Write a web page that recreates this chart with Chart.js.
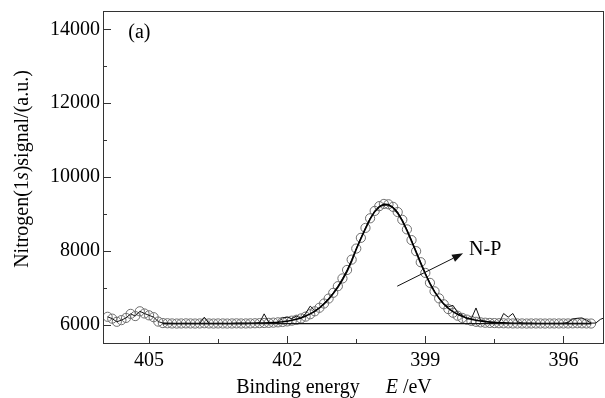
<!DOCTYPE html>
<html>
<head>
<meta charset="utf-8">
<script src="https://cdn.jsdelivr.net/npm/chart.js@4/dist/chart.umd.min.js"></script>
<style>
  html, body { margin: 0; padding: 0; background: #fff; }
  #wrap { width: 605px; height: 398px; }
</style>
</head>
<body>
<div id="wrap"><canvas id="c" width="605" height="398"></canvas></div>
<script>
// ---------------- DATA ----------------
// Binding energies of the measured points (eV)
const energies = [
  405.9, 405.8, 405.7, 405.6, 405.5, 405.4, 405.3, 405.2, 405.1, 405.0,
  404.9, 404.8, 404.7, 404.6, 404.5, 404.4, 404.3, 404.2, 404.1, 404.0,
  403.9, 403.8, 403.7, 403.6, 403.5, 403.4, 403.3, 403.2, 403.1, 403.0,
  402.9, 402.8, 402.7, 402.6, 402.5, 402.4, 402.3, 402.2, 402.1, 402.0,
  401.9, 401.8, 401.7, 401.6, 401.5, 401.4, 401.3, 401.2, 401.1, 401.0,
  400.9, 400.8, 400.7, 400.6, 400.5, 400.4, 400.3, 400.2, 400.1, 400.0,
  399.9, 399.8, 399.7, 399.6, 399.5, 399.4, 399.3, 399.2, 399.1, 399.0,
  398.9, 398.8, 398.7, 398.6, 398.5, 398.4, 398.3, 398.2, 398.1, 398.0,
  397.9, 397.8, 397.7, 397.6, 397.5, 397.4, 397.3, 397.2, 397.1, 397.0,
  396.9, 396.8, 396.7, 396.6, 396.5, 396.4, 396.3, 396.2, 396.1, 396.0,
  395.9, 395.8, 395.7, 395.6, 395.5, 395.4
];
// Measured N 1s signal (open circles)
const measured = [
  6210, 6160, 6075, 6120, 6180, 6290, 6230, 6360, 6300, 6250,
  6200, 6080, 6040, 6035, 6030, 6028, 6030, 6032, 6030, 6028,
  6030, 6035, 6030, 6028, 6030, 6030, 6028, 6030, 6032, 6030,
  6030, 6032, 6035, 6038, 6042, 6046, 6052, 6060, 6070, 6085,
  6105, 6130, 6165, 6215, 6280, 6360, 6455, 6570, 6705, 6860,
  7040, 7250, 7480, 7760, 8060, 8350, 8620, 8880, 9080, 9210,
  9270, 9260, 9190, 9050, 8840, 8580, 8290, 7990, 7690, 7400,
  7130, 6900, 6710, 6550, 6420, 6320, 6240, 6180, 6135, 6100,
  6075, 6060, 6050, 6044, 6040, 6036, 6034, 6032, 6030, 6030,
  6030, 6028, 6030, 6030, 6030, 6028, 6030, 6030, 6030, 6030,
  6030, 6032, 6035, 6033, 6030, 6028
];
// Raw spectrum trace (thin noisy line)
const rawEnergies = energies.concat([395.3, 395.2, 395.1]);
const rawSignal = [
  6210, 6160, 6075, 6120, 6180, 6290, 6230, 6360, 6300, 6250,
  6200, 6080, 6040, 6035, 6030, 6028, 6030, 6032, 6030, 6028,
  6030, 6200, 6030, 6028, 6030, 6030, 6028, 6030, 6032, 6030,
  6030, 6032, 6035, 6050, 6290, 6060, 6052, 6060, 6180, 6200,
  6160, 6230, 6170, 6300, 6500, 6380, 6455, 6570, 6705, 6860,
  7040, 7250, 7480, 7760, 8060, 8350, 8620, 8880, 9080, 9210,
  9270, 9260, 9190, 9050, 8840, 8580, 8290, 7990, 7690, 7400,
  7130, 6900, 6710, 6550, 6480, 6520, 6330, 6260, 6150, 6160,
  6450, 6120, 6090, 6060, 6050, 6040, 6300, 6200, 6300, 6080,
  6035, 6030, 6030, 6030, 6030, 6028, 6030, 6030, 6030, 6035,
  6060, 6150, 6170, 6180, 6120, 6040, 6040, 6140, 6190
];
// Fitted N-P envelope (smooth line); null = not drawn
const fitted = [
  null, null, null, null, null, null, null, null, null, null,
  null, null, 6030, 6030, 6030, 6030, 6030, 6030, 6030, 6030,
  6030, 6030, 6030, 6030, 6030, 6030, 6030, 6030, 6031, 6032,
  6033, 6035, 6037, 6040, 6044, 6049, 6056, 6064, 6075, 6092,
  6115, 6145, 6180, 6230, 6290, 6360, 6450, 6560, 6690, 6840,
  7010, 7210, 7440, 7720, 8040, 8330, 8600, 8860, 9060, 9190,
  9250, 9240, 9165, 9020, 8810, 8550, 8260, 7960, 7660, 7370,
  7110, 6890, 6710, 6560, 6440, 6350, 6280, 6225, 6180, 6145,
  6118, 6096, 6080, 6068, 6058, 6050, 6045, 6040, 6037, 6035,
  6033, 6032, 6031, 6030, 6030, 6030, 6030, 6030, 6030, 6030,
  6030, 6030, 6030, 6030, 6030, 6030
];
// Background (baseline)
const baseEnergies = [404.7, 395.4];
const baseSignal = [6025, 6025];

// Axis ticks
const xMajorTicks = [405, 402, 399, 396];
const xMinorTicks = [403.5, 400.5, 397.5];
const yMajorTicks = [6000, 8000, 10000, 12000, 14000];
const yMinorTicks = [7000, 9000, 11000, 13000];

// Annotations (in data coordinates)
const panelLabel = { text: '(a)', x: 405.45, y: 13764 };
const peakLabel = { text: 'N-P', x: 398.05, y: 7880 };
const arrowFrom = { x: 399.61, y: 7040 };
const arrowTo = { x: 398.18, y: 7930 };

// ---------------- CHART ----------------
const FONT = '"Liberation Serif", "Times New Roman", serif';
const pts = (xs, ys) => xs.map((x, i) => ({ x: x, y: ys[i] }));

const decor = {
  id: 'decor',
  afterDraw(chart) {
    const ctx = chart.ctx;
    const a = chart.chartArea;
    const xs = chart.scales.x, ys = chart.scales.y;
    ctx.save();
    // frame
    ctx.strokeStyle = '#333';
    ctx.lineWidth = 1;
    ctx.strokeRect(Math.round(a.left) + 0.5, Math.round(a.top) + 0.5,
                   Math.round(a.right - a.left) - 1, Math.round(a.bottom - a.top));
    // inward ticks
    const tickX = (v, len) => {
      const px = Math.round(xs.getPixelForValue(v)) + 0.5;
      ctx.beginPath(); ctx.moveTo(px, a.bottom); ctx.lineTo(px, a.bottom - len); ctx.stroke();
    };
    const tickY = (v, len) => {
      const py = Math.round(ys.getPixelForValue(v)) + 0.5;
      ctx.beginPath(); ctx.moveTo(a.left, py); ctx.lineTo(a.left + len, py); ctx.stroke();
    };
    xMajorTicks.forEach(v => tickX(v, 7));
    xMinorTicks.forEach(v => tickX(v, 4));
    yMajorTicks.forEach(v => tickY(v, 8));
    yMinorTicks.forEach(v => tickY(v, 4));

    ctx.fillStyle = '#000';
    ctx.textBaseline = 'alphabetic';
    ctx.textAlign = 'left';
    const normal = '20px ' + FONT;
    const italic = 'italic 20px ' + FONT;

    // x-axis title
    const xParts = [['Binding energy', normal, 0], ['E', italic, 26], [' /eV', normal, 0]];
    let total = 0;
    xParts.forEach(p => { ctx.font = p[1]; total += p[2] + ctx.measureText(p[0]).width; });
    let cx = 334 - total / 2;
    xParts.forEach(p => { ctx.font = p[1]; cx += p[2]; ctx.fillText(p[0], cx, 393); cx += ctx.measureText(p[0]).width; });

    // y-axis title (rotated)
    const yParts = [['Nitrogen(1', normal], ['s', italic], [')signal/(a.u.)', normal]];
    total = 0;
    yParts.forEach(p => { ctx.font = p[1]; total += ctx.measureText(p[0]).width; });
    ctx.save();
    ctx.translate(27.5, 169);
    ctx.rotate(-Math.PI / 2);
    let cy = -total / 2;
    yParts.forEach(p => { ctx.font = p[1]; ctx.fillText(p[0], cy, 0); cy += ctx.measureText(p[0]).width; });
    ctx.restore();

    // panel label and peak label
    ctx.font = normal;
    ctx.fillText(panelLabel.text, xs.getPixelForValue(panelLabel.x), ys.getPixelForValue(panelLabel.y));
    ctx.fillText(peakLabel.text, xs.getPixelForValue(peakLabel.x), ys.getPixelForValue(peakLabel.y));

    // arrow
    const x1 = xs.getPixelForValue(arrowFrom.x), y1 = ys.getPixelForValue(arrowFrom.y);
    const x2 = xs.getPixelForValue(arrowTo.x), y2 = ys.getPixelForValue(arrowTo.y);
    const ang = Math.atan2(y2 - y1, x2 - x1);
    const hl = 11, hw = 4;
    const bx = x2 - hl * Math.cos(ang), by = y2 - hl * Math.sin(ang);
    ctx.strokeStyle = '#111';
    ctx.lineWidth = 1;
    ctx.beginPath(); ctx.moveTo(x1, y1); ctx.lineTo(bx, by); ctx.stroke();
    ctx.beginPath();
    ctx.moveTo(x2, y2);
    ctx.lineTo(bx + hw * Math.sin(ang), by - hw * Math.cos(ang));
    ctx.lineTo(bx - hw * Math.sin(ang), by + hw * Math.cos(ang));
    ctx.closePath();
    ctx.fillStyle = '#111';
    ctx.fill();
    ctx.restore();
  }
};

new Chart(document.getElementById('c'), {
  type: 'scatter',
  data: {
    datasets: [
      { label: 'Background', data: pts(baseEnergies, baseSignal), showLine: true,
        borderColor: '#111', borderWidth: 1.3, pointRadius: 0, order: 0 },
      { label: 'N-P fit', data: pts(energies, fitted), showLine: true, spanGaps: false,
        borderColor: '#000', borderWidth: 1.6, pointRadius: 0, order: 1 },
      { label: 'Raw', data: pts(rawEnergies, rawSignal), showLine: true,
        borderColor: '#111', borderWidth: 1, pointRadius: 0, order: 2 },
      { label: 'Measured', data: pts(energies, measured), showLine: false,
        pointRadius: 4.6, pointStyle: 'circle', borderColor: '#6e6e6e',
        backgroundColor: 'rgba(0,0,0,0)', borderWidth: 1, order: 3 }
    ]
  },
  options: {
    responsive: false,
    animation: false,
    events: [],
    layout: { autoPadding: false, padding: { top: 11, right: 1, left: 0, bottom: 0 } },
    plugins: { legend: { display: false }, tooltip: { enabled: false } },
    scales: {
      x: {
        type: 'linear', reverse: true, min: 395.12, max: 406.0,
        afterBuildTicks: s => { s.ticks = xMajorTicks.map(v => ({ value: v })); },
        afterFit: s => { s.height = 55; s.paddingLeft = 0; s.paddingRight = 0; },
        grid: { display: false, drawTicks: false },
        border: { display: false },
        ticks: { padding: 6, color: '#000', font: { family: FONT, size: 20 },
                 maxRotation: 0, autoSkip: false, callback: v => String(v) }
      },
      y: {
        type: 'linear', min: 5500, max: 14500,
        afterBuildTicks: s => { s.ticks = yMajorTicks.map(v => ({ value: v })); },
        afterFit: s => { s.width = 103; s.paddingTop = 0; s.paddingBottom = 0; },
        grid: { display: false, drawTicks: false },
        border: { display: false },
        ticks: { padding: 3, color: '#000', font: { family: FONT, size: 20 },
                 autoSkip: false, callback: v => String(v) }
      }
    }
  },
  plugins: [decor]
});
</script>
</body>
</html>
